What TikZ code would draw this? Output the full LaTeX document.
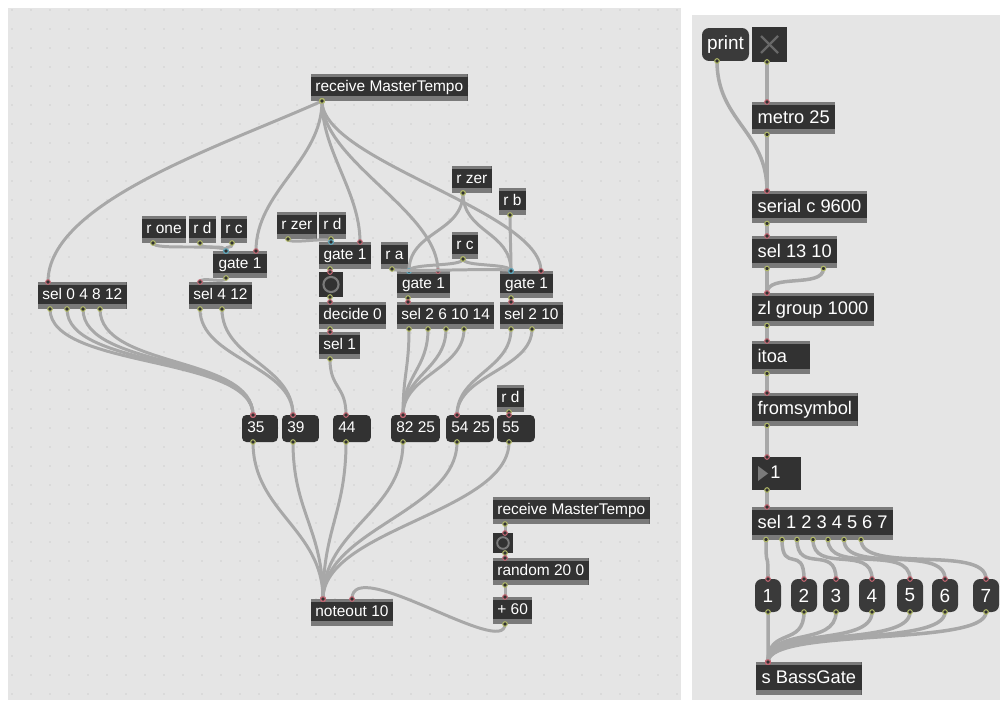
\documentclass[tikz,border=0pt]{standalone}
\usepackage{fontspec}
\setmainfont{Liberation Sans}
\usetikzlibrary{calc}
\usetikzlibrary{positioning}
\definecolor{patchbg}{RGB}{229,229,229}
\definecolor{griddot}{RGB}{208,208,208}
\definecolor{objdark}{RGB}{50,50,50}
\definecolor{objbar}{RGB}{122,122,122}
\definecolor{msgdark}{RGB}{58,58,58}
\definecolor{cordgray}{RGB}{168,168,168}
\definecolor{inletred}{RGB}{196,104,116}
\definecolor{outletgreen}{RGB}{176,184,104}
\definecolor{coldblue}{RGB}{96,168,188}

\tikzset{
  obj/.style={anchor=north west, fill=objdark, text=white, outer sep=0pt,
    font=\fontsize{8.8}{10}\selectfont, inner xsep=2.5pt, inner ysep=0pt,
    minimum height=0.54cm, text height=6.4pt, text depth=1.8pt,
    path picture={
      \fill[objbar] (path picture bounding box.north west) rectangle ($(path picture bounding box.north east)+(0,3)$);
      \fill[objbar] (path picture bounding box.south west) rectangle ($(path picture bounding box.south east)+(0,-5)$);}},
  bigobj/.style={obj, font=\fontsize{10.4}{12}\selectfont, inner xsep=3.2pt,
    minimum height=0.65cm, text height=7.6pt, text depth=2.1pt},
  numbox/.style={anchor=north west, fill=objdark, text=white, outer sep=0pt,
    rounded corners=2.5pt, font=\fontsize{8.8}{10}\selectfont, inner xsep=3pt,
    inner ysep=0pt, minimum height=0.54cm, text height=6.4pt, text depth=1.8pt},
  msgbox/.style={anchor=north west, fill=msgdark, text=white, outer sep=0pt,
    rounded corners=4pt, font=\fontsize{10.8}{12}\selectfont, inner sep=0pt,
    minimum height=0.66cm, minimum width=0.52cm},
  togbox/.style={anchor=north west, fill=objdark, outer sep=0pt, inner sep=0pt},
  cord/.style={draw=cordgray, line width=1.7pt},
  outdot/.style={draw=outletgreen, fill=objdark, line width=0.6pt},
  indot/.style={draw=inletred, fill=objdark, line width=0.6pt},
  cold/.style={draw=coldblue},
}
% a patch cord: outlet, two control offsets, inlet
\newcommand{\cordc}[5][]{%
  \draw[cord] #2 .. controls +#3 and +#4 .. #5;
  \draw[outdot] #2 circle (1.3pt);
  \draw[indot,#1] #5 circle (1.3pt);}
\newcommand{\cord}[4][]{\cordc[#1]{#2}{(0,#4)}{(0,-#4)}{#3}}
\newcommand{\lbox}[2]{\makebox[#1][l]{#2}}

\begin{document}
\begin{tikzpicture}[x=0.02cm,y=-0.02cm]
  \fill[white] (0,0) rectangle (1000,700);
  \useasboundingbox (0,0) rectangle (1000,700);
  % the two patcher windows
  \fill[patchbg] (8,8) rectangle (681,700);
  \fill[patchbg] (692,15) rectangle (1000,700);
  \foreach \i in {0,...,35} {
    \foreach \j in {0,...,36} {
      \fill[griddot] (12+19*\i,10+19*\j) circle (0.5pt);
    }
  }

  % ---- left patcher ----
  \node[obj] (recv1) at (311,74) {receive MasterTempo};
  \node[obj] (rone) at (142,216) {r one};
  \node[obj] (rd1) at (189,216) {r d};
  \node[obj] (rc1) at (221,216) {r c};
  \node[obj, minimum width=1.08cm] (gateA) at (213,251) {gate 1};
  \node[obj] (sel0) at (38,282) {sel 0 4 8 12};
  \node[obj] (sel412) at (189,282) {sel 4 12};
  \node[obj] (rzerL) at (277,212) {r zer};
  \node[obj] (rd2) at (319,212) {r d};
  \node[obj, minimum width=1.04cm] (gateB) at (319,242) {gate 1};
  \node[togbox, minimum width=0.48cm, minimum height=0.5cm] (togA) at (319,272) {};
  \draw[objbar, line width=1.2pt] (togA.center) circle (4.3pt);
  \node[obj] (decide) at (319,302) {decide 0};
  \node[obj] (selone) at (319,332) {sel 1};
  \node[obj] (ra) at (381,242) {r a};
  \node[obj] (rzerR) at (452,166) {r zer};
  \node[obj] (rb) at (499,188) {r b};
  \node[obj] (rcR) at (452,232) {r c};
  \node[obj, minimum width=1.06cm] (gateC) at (397,271) {gate 1};
  \node[obj, minimum width=1.06cm] (gateD) at (500,271) {gate 1};
  \node[obj] (selC) at (397,302) {sel 2 6 10 14};
  \node[obj] (selD) at (500,302) {sel 2 10};
  \node[numbox] (n35) at (242,415) {\lbox{14.4pt}{35}};
  \node[numbox] (n39) at (282,415) {\lbox{15pt}{39}};
  \node[numbox] (n44) at (333,415) {\lbox{15.5pt}{44}};
  \node[numbox] (n8225) at (391,415) {\lbox{21.8pt}{82 25}};
  \node[numbox] (n5425) at (446,415) {\lbox{21.2pt}{54 25}};
  \node[obj] (rd3) at (497,385) {r d};
  \node[numbox] (n55) at (497,415) {\lbox{15.5pt}{55}};
  \node[obj] (recv2) at (493,497) {receive MasterTempo};
  \node[togbox, minimum width=0.4cm, minimum height=0.4cm] (togB) at (493,533) {};
  \draw[objbar, line width=1.1pt] (togB.center) circle (3.3pt);
  \node[obj] (rnd) at (493,558) {random 20 0};
  \node[obj] (plus) at (493,597) {+ 60};
  \node[obj] (noteout) at (311,599) {noteout 10};

  % tempo fan-out
  \cordc{($(recv1.south west)+(11,0)$)}{(-100,45)}{(0,-80)}{($(sel0.north west)+(10,0)$)}
  \cord{($(recv1.south west)+(11,0)$)}{($(gateA.north east)+(-11,0)$)}{60}
  \cord{($(recv1.south west)+(11,0)$)}{($(gateB.north east)+(-11,0)$)}{50}
  \cord{($(recv1.south west)+(11,0)$)}{($(gateC.north east)+(-12,0)$)}{60}
  \cord{($(recv1.south west)+(11,0)$)}{($(gateD.north east)+(-12,0)$)}{60}

  % receives into the gates
  \cord[cold]{($(rone.south west)+(11,0)$)}{($(gateA.north west)+(13,0)$)}{8}
  \cord[cold]{($(rd1.south west)+(11,0)$)}{($(gateA.north west)+(13,0)$)}{8}
  \cord[cold]{($(rc1.south west)+(11,0)$)}{($(gateA.north west)+(13,0)$)}{8}
  \cord{($(gateA.south west)+(13,0)$)}{($(sel412.north west)+(11,0)$)}{6}
  \cord[cold]{($(rzerL.south west)+(11,0)$)}{($(gateB.north west)+(12,0)$)}{6}
  \cord[cold]{($(rd2.south west)+(12,0)$)}{($(gateB.north west)+(12,0)$)}{4}
  \cord{($(gateB.south west)+(11,0)$)}{($(togA.north west)+(11,0)$)}{3}
  \cord{($(togA.south west)+(11,0)$)}{($(decide.north west)+(11,0)$)}{3}
  \cord{($(decide.south west)+(11,0)$)}{($(selone.north west)+(11,0)$)}{3}
  \cord{($(selone.south west)+(11,0)$)}{($(n44.north west)+(13,0)$)}{30}
  \cord[cold]{($(rzerR.south west)+(11,0)$)}{($(gateC.north west)+(12,0)$)}{40}
  \cord[cold]{($(rzerR.south west)+(11,0)$)}{($(gateD.north west)+(11,0)$)}{40}
  \cord[cold]{($(rb.south west)+(11,0)$)}{($(gateD.north west)+(11,0)$)}{20}
  \cord[cold]{($(rcR.south west)+(11,0)$)}{($(gateC.north west)+(12,0)$)}{8}
  \cord[cold]{($(rcR.south west)+(11,0)$)}{($(gateD.north west)+(11,0)$)}{8}
  \cord[cold]{($(ra.south west)+(11,0)$)}{($(gateD.north west)+(11,0)$)}{4}
  \cord{($(gateC.south west)+(11,0)$)}{($(selC.north west)+(11,0)$)}{3}
  \cord{($(gateD.south west)+(11,0)$)}{($(selD.north west)+(11,0)$)}{3}

  % sel outlets to the number boxes
  \foreach \dx in {12,29,45,62} {\cord{($(sel0.south west)+(\dx,0)$)}{($(n35.north west)+(11,0)$)}{60}}
  \foreach \dx in {11,33} {\cord{($(sel412.south west)+(\dx,0)$)}{($(n39.north west)+(11,0)$)}{50}}
  \foreach \dx in {12,31,49,67} {\cord{($(selC.south west)+(\dx,0)$)}{($(n8225.north west)+(12,0)$)}{40}}
  \foreach \dx in {11,32} {\cord{($(selD.south west)+(\dx,0)$)}{($(n5425.north west)+(11,0)$)}{40}}
  \cord{($(rd3.south west)+(12,0)$)}{($(n55.north west)+(12,0)$)}{2}

  % number boxes into noteout
  \foreach \n/\dx in {n35/11,n39/11,n44/13,n8225/12,n5425/11,n55/12} {
    \cord{($(\n.south west)+(\dx,0)$)}{($(noteout.north west)+(12,0)$)}{70}
  }
  \cord{($(recv2.south west)+(12,0)$)}{($(togB.north west)+(12,0)$)}{3}
  \cord{($(togB.south west)+(12,0)$)}{($(rnd.north west)+(12,0)$)}{3}
  \cord{($(rnd.south west)+(12,0)$)}{($(plus.north west)+(12,0)$)}{3}
  \cordc{($(plus.south west)+(12,0)$)}{(0,35)}{(0,-45)}{($(noteout.north west)+(41,0)$)}

  % ---- right patcher ----
  \begin{scope}[cord/.style={draw=cordgray, line width=2pt}]
  \node[msgbox, minimum width=0.94cm] (prt) at (702,28) {print};
  \node[togbox, minimum size=0.7cm] (xtog) at (752,27) {};
  \draw[objbar!85!black, line width=1.3pt] ($(xtog.north west)+(9,9)$) -- ($(xtog.south east)+(-9,-9)$);
  \draw[objbar!85!black, line width=1.3pt] ($(xtog.south west)+(9,-9)$) -- ($(xtog.north east)+(-9,9)$);
  \node[bigobj] (metro) at (752,102) {metro 25};
  \node[bigobj] (serial) at (752,191) {serial c 9600};
  \node[bigobj] (sel1310) at (752,236) {sel 13 10};
  \node[bigobj] (zl) at (752,293) {zl group 1000};
  \node[bigobj] (itoa) at (752,341) {\lbox{26.6pt}{itoa}};
  \node[bigobj] (fromsym) at (752,393) {fromsymbol};
  \node[numbox, font=\fontsize{10.4}{12}\selectfont, rounded corners=0pt,
    minimum height=0.66cm, inner xsep=10.5pt, text height=7.6pt, text depth=2.1pt] (nbox) at (752,457) {\lbox{6.8pt}{1}};
  \fill[objbar] ($(nbox.west)+(6,-7.5)$) -- ++(0,15) -- ++(10,-7.5) -- cycle;
  \node[bigobj] (sel7) at (752,507) {sel 1 2 3 4 5 6 7};
  \foreach \k/\x in {1/755,2/791,3/823,4/859,5/897,6/932,7/973} {
    \node[msgbox] (m\k) at (\x,579) {\k};
  }
  \node[bigobj] (bass) at (756,662) {s BassGate};

  \cord{($(xtog.south west)+(15,0)$)}{($(metro.north west)+(15,0)$)}{10}
  \cord{($(prt.south west)+(15,0)$)}{($(serial.north west)+(15,0)$)}{60}
  \cord{($(metro.south west)+(15,0)$)}{($(serial.north west)+(15,0)$)}{10}
  \cord{($(serial.south west)+(15,0)$)}{($(sel1310.north west)+(15,0)$)}{3}
  \cord{($(sel1310.south west)+(15,0)$)}{($(zl.north west)+(15,0)$)}{5}
  \cord{($(sel1310.south east)+(-14,0)$)}{($(zl.north west)+(15,0)$)}{20}
  \cord{($(zl.south west)+(15,0)$)}{($(itoa.north west)+(15,0)$)}{3}
  \cord{($(itoa.south west)+(15,0)$)}{($(fromsym.north west)+(15,0)$)}{5}
  \cord{($(fromsym.south west)+(15,0)$)}{($(nbox.north west)+(15,0)$)}{10}
  \cord{($(nbox.south west)+(15,0)$)}{($(sel7.north west)+(15,0)$)}{3}
  \foreach \k/\dx in {1/14,2/30,3/45,4/61,5/76,6/92,7/109} {
    \cord{($(sel7.south west)+(\dx,0)$)}{(m\k.north)}{35}
  }
  \foreach \k in {1,...,7} {
    \cord{(m\k.south)}{($(bass.north west)+(12,0)$)}{35}
  }
  \end{scope}
\end{tikzpicture}
\end{document}
